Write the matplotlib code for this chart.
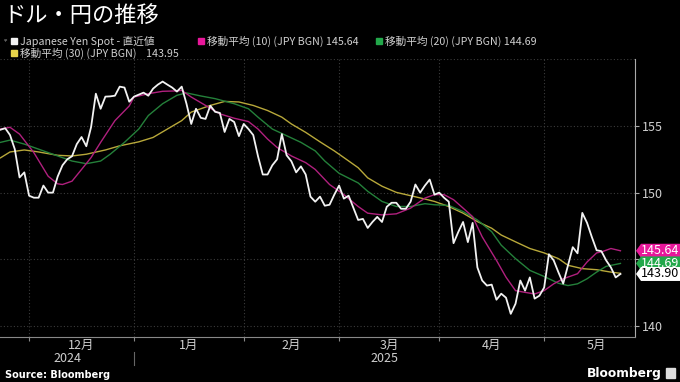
import matplotlib.pyplot as plt
import matplotlib.transforms as mtransforms
from matplotlib.patches import Polygon, Rectangle
import numpy as np
import pandas as pd

plt.rcParams['font.family'] = ['Noto Sans CJK JP', 'DejaVu Sans']

# trading days, 2024-11-22 .. 2025-05-23
dates = pd.bdate_range('2024-11-22', periods=131)

spot = [
    154.72, 154.83, 154.32, 153.26, 151.14, 151.52, 149.77, 149.62, 149.62, 150.53,
    150.00, 150.00, 151.21, 152.05, 152.50, 152.73, 153.64, 154.17, 153.48, 154.92,
    157.42, 156.29, 157.20, 157.22, 157.27, 157.95, 157.88, 156.82, 157.20, 157.35,
    157.50, 157.27, 157.80, 158.10, 158.33, 158.10, 157.88, 157.58, 157.95, 156.67,
    155.15, 156.29, 155.61, 155.53, 156.52, 156.06, 155.98, 154.55, 155.53, 155.30,
    154.24, 155.15, 154.77, 154.32, 152.73, 151.36, 151.36, 152.05, 152.50, 154.39,
    152.80, 152.35, 151.52, 151.97, 151.36, 149.70, 149.32, 149.70, 149.02, 149.09,
    149.85, 150.53, 149.55, 149.77, 148.86, 147.95, 148.03, 147.35, 147.80, 148.18,
    147.80, 148.94, 149.24, 149.24, 148.79, 148.79, 149.32, 150.61, 150.00, 150.53,
    150.98, 149.85, 150.00, 149.62, 149.32, 146.21, 147.05, 147.80, 146.29, 147.73,
    144.39, 143.41, 143.03, 143.10, 141.97, 142.42, 142.12, 140.91, 141.67, 143.41,
    142.65, 143.64, 142.05, 142.27, 142.88, 145.38, 144.92, 144.02, 143.18, 144.55,
    145.91, 145.45, 148.48, 147.73, 146.67, 145.68, 145.61, 144.92, 144.39, 143.64,
    143.90,
]

# moving averages (trading-day index, value)
ma10_idx = [0, 2, 4, 7, 10, 12, 13, 15, 17, 19, 21, 24, 27, 28, 31, 34, 37, 38, 40, 43,
            46, 49, 52, 54, 56, 58, 61, 64, 66, 69, 72, 75, 77, 80, 83, 86, 89, 91, 93, 95,
            97, 99, 101, 104, 106, 108, 110, 112, 114, 116, 118, 121, 123, 125, 126, 128, 130]
ma10_val = [154.77, 154.90, 154.39, 153.00, 151.23, 150.66, 150.61, 150.86, 151.74, 152.63,
            153.77, 155.40, 156.50, 157.17, 157.42, 157.60, 157.63, 157.67, 157.17, 156.54,
            155.91, 155.58, 155.33, 154.77, 154.02, 153.39, 152.75, 152.25, 151.74, 150.61,
            149.85, 148.96, 148.46, 148.33, 148.41, 148.84, 149.59, 149.85, 149.85, 149.47,
            148.84, 148.20, 146.69, 144.92, 143.66, 142.65, 142.52, 142.40, 142.65, 143.16,
            143.54, 143.92, 144.80, 145.48, 145.55, 145.81, 145.64]

ma20_idx = [0, 2, 5, 8, 12, 15, 18, 21, 23, 26, 29, 31, 34, 37, 39, 42, 45, 49, 52, 54,
            57, 60, 63, 66, 68, 71, 75, 77, 80, 83, 86, 89, 91, 94, 97, 100, 103, 105, 108,
            111, 114, 117, 119, 121, 123, 125, 127, 130]
ma20_val = [153.77, 153.94, 153.64, 153.26, 152.75, 152.37, 152.17, 152.37, 152.88, 153.77,
            154.77, 155.78, 156.67, 157.30, 157.48, 157.25, 157.05, 156.67, 156.29, 155.66,
            154.77, 154.27, 153.77, 153.13, 152.37, 151.45, 150.73, 150.10, 149.34, 148.96,
            148.96, 149.17, 149.09, 149.04, 148.58, 147.95, 147.07, 146.06, 145.05, 144.17,
            143.71, 143.20, 143.03, 143.16, 143.54, 144.04, 144.47, 144.69]

ma30_idx = [0, 2, 5, 8, 12, 15, 18, 22, 25, 29, 32, 35, 38, 40, 44, 47, 50, 53, 56, 59,
            61, 64, 67, 70, 72, 75, 77, 80, 83, 86, 89, 91, 94, 97, 100, 103, 105, 108, 111,
            114, 117, 119, 122, 125, 128, 130]
ma30_val = [152.61, 153.05, 153.20, 153.05, 152.80, 152.75, 152.88, 153.20, 153.51, 153.81,
            154.14, 154.77, 155.40, 156.04, 156.54, 156.84, 156.80, 156.54, 156.16, 155.66,
            155.15, 154.52, 153.81, 153.13, 152.63, 151.87, 151.11, 150.48, 150.02, 149.77,
            149.52, 149.34, 148.96, 148.46, 147.83, 147.33, 146.82, 146.31, 145.81, 145.48,
            145.05, 144.55, 144.30, 144.22, 144.04, 143.95]

y_ticks = [140, 145, 150, 155]
last_spot = 143.90
last_ma10 = 145.64
last_ma20 = 144.69
last_ma30 = 143.95

c_spot = '#f2f2f2'
c_ma10 = '#b0207e'
c_ma20 = '#24803a'
c_ma30 = '#b8a83a'
tag_ma10 = '#e8179a'
tag_ma20 = '#22a84a'
tag_ma30 = '#e6d34a'
txt = '#cfcfcf'
grid_c = '#3c3c3c'

fig = plt.figure(figsize=(6.8, 3.82), dpi=100, facecolor='black')
W, H = 680, 382
ax = fig.add_axes([0, 1 - 337.3 / H, 635 / W, (337.3 - 59.3) / H])
ax.set_facecolor('black')

x = np.arange(len(spot))
ax.plot(ma30_idx, ma30_val, color=c_ma30, lw=1.0, zorder=3)
ax.plot(ma20_idx, ma20_val, color=c_ma20, lw=1.0, zorder=4)
ax.plot(ma10_idx, ma10_val, color=c_ma10, lw=1.0, zorder=5)
ax.plot(x, spot, color=c_spot, lw=1.3, zorder=6)

ax.set_xlim(-0.1, 133.05)
ax.set_ylim(139.15, 160)

# month starts / middles
months = dates.month
starts = [i for i in range(1, len(dates)) if months[i] != months[i - 1]]
ax.set_xticks(starts)
ax.set_xticklabels([])
ax.tick_params(axis='x', length=3, color='#888888', direction='out')
for s in starts:
    ax.axvline(s, color=grid_c, lw=0.8, ls=(0, (1, 2)), zorder=1)

bounds = starts + [133.05 + 3]
mids = [(bounds[k] + bounds[k + 1]) / 2 for k in range(len(starts))]
labels = ['12月', '1月', '2月', '3月', '4月', '5月']
for m, lab in zip(mids, labels):
    ax.text(m, -0.028, lab, transform=ax.get_xaxis_transform(), ha='center', va='center',
            color=txt, fontsize=9)

# year labels and separator
jan = starts[1]
ax.text(jan / 2, -0.078, '2024', transform=ax.get_xaxis_transform(), ha='center',
        va='center', color=txt, fontsize=9)
ax.text((jan + 133.05) / 2, -0.078, '2025', transform=ax.get_xaxis_transform(),
        ha='center', va='center', color=txt, fontsize=9)
ax.plot([jan, jan], [-0.053, -0.10], transform=ax.get_xaxis_transform(), color='#666666',
        lw=0.8, clip_on=False)

ax.yaxis.tick_right()
ax.set_yticks(y_ticks)
ax.set_yticklabels([str(t) for t in y_ticks], color=txt, fontsize=9)
ax.tick_params(axis='y', length=3, color='#aaaaaa', pad=2)
for t in y_ticks + [160]:
    ax.axhline(t, color=grid_c, lw=0.8, ls=(0, (1, 2)), zorder=1)

for side in ['left', 'top']:
    ax.spines[side].set_visible(False)
ax.spines['right'].set_color('#aaaaaa')
ax.spines['bottom'].set_color('#888888')

# title and legend
fig.text(3 / W, 1 - 15 / H, 'ドル・円の推移', color='white', fontsize=16, va='center',
         ha='left')

legend_items = [
    (11, 41, c_spot, 'Japanese Yen Spot - 直近値'),
    (198, 41, tag_ma10, f'移動平均 (10) (JPY BGN) {last_ma10:.2f}'),
    (376, 41, tag_ma20, f'移動平均 (20) (JPY BGN) {last_ma20:.2f}'),
    (11, 53, tag_ma30, f'移動平均 (30) (JPY BGN)    {last_ma30:.2f}'),
]
for px, py, col, lab in legend_items:
    fig.add_artist(Rectangle((px / W, 1 - (py + 3) / H), 6 / W, 6 / H, color=col,
                             transform=fig.transFigure))
    fig.text((px + 9) / W, 1 - py / H, lab, color=txt, fontsize=7.7, va='center', ha='left')
fig.text(4 / W, 1 - 41 / H, 'ᵠ', color='#888888', fontsize=6, va='center', ha='left',
         family='DejaVu Sans')

# value tags on right axis
fig.canvas.draw()
ident = mtransforms.IdentityTransform()
xr = ax.transAxes.transform((1, 0))[0]
for val, face, tc in [(last_ma10, tag_ma10, 'white'), (last_ma20, tag_ma20, 'white'),
                      (last_spot, 'white', 'black')]:
    yp = ax.transData.transform((0, val))[1]
    h = 14
    poly = Polygon([[xr + 1, yp], [xr + 6, yp + h / 2], [W, yp + h / 2], [W, yp - h / 2],
                    [xr + 6, yp - h / 2]], closed=True, facecolor=face, edgecolor='none',
                   transform=ident)
    fig.add_artist(poly)
    fig.text(xr + 6, yp, f'{val:.2f}', color=tc, fontsize=9, va='center', ha='left',
             transform=ident)

fig.text(5 / W, 1 - 375 / H, 'Source: Bloomberg', color='white', fontsize=7,
         fontweight='bold', va='center', ha='left', family='DejaVu Sans')
fig.text(662 / W, 1 - 373 / H, 'Bloomberg', color='white', fontsize=8.8,
         fontweight='bold', va='center', ha='right', family='DejaVu Sans')
fig.add_artist(Rectangle((666 / W, 1 - 378 / H), 9 / W, 10 / H, color='#dddddd',
                         transform=fig.transFigure))

fig.savefig('out.png', dpi=100, facecolor='black')
